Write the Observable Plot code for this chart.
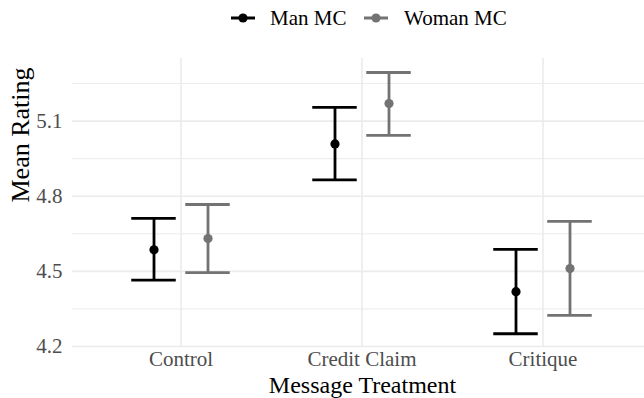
<!DOCTYPE html>
<html>
<head>
<meta charset="utf-8">
<script src="https://cdn.jsdelivr.net/npm/d3@7"></script>
<script src="https://cdn.jsdelivr.net/npm/@observablehq/plot@0.6"></script>
<style>
  html, body { margin: 0; padding: 0; background: #fff; overflow: hidden; }
  #wrap { position: relative; width: 644px; height: 398px; font-family: "Liberation Serif", "Times New Roman", serif; }
  #legend { position: relative; height: 36px; width: 644px; }
  .sym { position: absolute; top: 9px; }
  .lab { position: absolute; top: 0; line-height: 36px; font-size: 21px; color: #000; white-space: nowrap; font-family: "Liberation Serif", "Times New Roman", serif !important; }
  #chart svg, #chart svg text { font-family: "Liberation Serif", "Times New Roman", serif !important; }
</style>
</head>
<body>
<div id="wrap">
  <div id="legend"></div>
  <div id="chart"></div>
</div>
<script>
const categories = ["Control", "Credit Claim", "Critique"];
const seriesNames = ["Man MC", "Woman MC"];
const manMean  = [4.586, 5.009, 4.419];
const manLower = [4.465, 4.865, 4.251];
const manUpper = [4.712, 5.155, 4.588];
const womanMean  = [4.631, 5.170, 4.511];
const womanLower = [4.495, 5.043, 4.324];
const womanUpper = [4.767, 5.294, 4.700];
const yMajorTicks = [4.2, 4.5, 4.8, 5.1];
const yMinorTicks = [4.35, 4.65, 4.95, 5.25];
const colors = ["#000000", "#737373"];

const man = categories.map((c, i) => ({cat: c, mean: manMean[i], lo: manLower[i], hi: manUpper[i]}));
const woman = categories.map((c, i) => ({cat: c, mean: womanMean[i], lo: womanLower[i], hi: womanUpper[i]}));

const font = '"Liberation Serif", "Times New Roman", serif';
const step = 181.5;           // band width (px)
const off = 27, half = 22.5, sw = 2.8;
const capInset = step / 2 - half;

function series(data, color, dx) {
  return [
    Plot.ruleX(data, {x: "cat", y1: "lo", y2: "hi", dx, stroke: color, strokeWidth: sw}),
    Plot.tickY(data, {x: "cat", y: "lo", dx, stroke: color, strokeWidth: sw, insetLeft: capInset, insetRight: capInset}),
    Plot.tickY(data, {x: "cat", y: "hi", dx, stroke: color, strokeWidth: sw, insetLeft: capInset, insetRight: capInset}),
    Plot.dot(data, {x: "cat", y: "mean", dx, r: 4.6, fill: color, stroke: "none"})
  ];
}

const chart = Plot.plot({
  width: 644,
  height: 362,
  marginTop: 22,
  marginBottom: 52,
  marginLeft: 72,
  marginRight: 0,
  style: {fontFamily: font, fontSize: "21px", color: "#4d4d4d", background: "#fff"},
  x: {type: "band", domain: categories, range: [180 - step / 2, 180 + step * 2.5], padding: 0, label: null, tickSize: 0, tickPadding: 5},
  y: {domain: [4.2, 5.35], ticks: yMajorTicks, tickFormat: d3.format(".1f"), label: null, tickSize: 0, tickPadding: 10},
  marks: [
    Plot.ruleY(yMinorTicks, {stroke: "#ebebeb", strokeWidth: 1}),
    Plot.ruleY(yMajorTicks, {stroke: "#ebebeb", strokeWidth: 1.6}),
    Plot.ruleX(categories, {x: d => d, stroke: "#ebebeb", strokeWidth: 1.6}),
    ...series(man, colors[0], -off),
    ...series(woman, colors[1], off),
    Plot.text(["Message Treatment"], {frameAnchor: "bottom", lineAnchor: "middle", dy: 38.5, dx: 4, fontSize: 24, fill: "#000"}),
    Plot.text(["Mean Rating"], {frameAnchor: "left", lineAnchor: "middle", rotate: -90, dx: -52, fontSize: 26, fill: "#000"})
  ]
});
document.getElementById("chart").appendChild(chart);

// legend
const legend = document.getElementById("legend");
const symLeft = [231, 364];
const labLeft = [270, 404];
seriesNames.forEach((name, i) => {
  const s = document.createElementNS("http://www.w3.org/2000/svg", "svg");
  s.setAttribute("width", 24); s.setAttribute("height", 18);
  s.setAttribute("class", "sym");
  s.style.left = symLeft[i] + "px";
  s.innerHTML = `<line x1="0" x2="24" y1="9" y2="9" stroke="${colors[i]}" stroke-width="3"/><circle cx="12" cy="9" r="4.6" fill="${colors[i]}"/>`;
  legend.appendChild(s);
  const t = document.createElement("span");
  t.className = "lab";
  t.style.left = labLeft[i] + "px";
  t.textContent = name;
  legend.appendChild(t);
});
</script>
</body>
</html>
